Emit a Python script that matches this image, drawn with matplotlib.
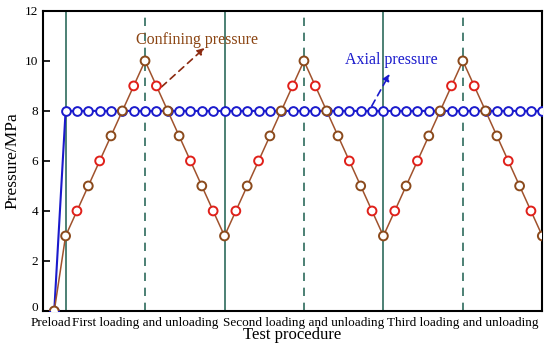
import numpy as np
import matplotlib
matplotlib.use('Agg')
import matplotlib.pyplot as plt

plt.rcParams['font.family'] = ['Liberation Serif', 'DejaVu Serif']

# test step index and pressures (MPa)
steps = list(range(44))
confining = [0, 3, 4, 5, 6, 7, 8, 9, 10, 9, 8, 7, 6, 5, 4, 3,
             4, 5, 6, 7, 8, 9, 10, 9, 8, 7, 6, 5, 4, 3,
             4, 5, 6, 7, 8, 9, 10, 9, 8, 7, 6, 5, 4, 3]
axial = [0] + [8] * 43

stage_starts = [1, 15, 29]
stage_peaks = [8, 22, 36]
stage_labels = ['Preload', 'First loading and unloading',
                'Second loading and unloading', 'Third loading and unloading']
stage_label_pos = [-0.3, 8, 22, 36]

line_green = '#2e6b5c'
brown = '#a0522d'
red = '#e0201a'
blue = '#1a1acc'

fig = plt.figure(figsize=(5.5, 3.51), dpi=100)
ax = fig.add_axes([0.078, 0.114, 0.908, 0.855])

for s in stage_starts:
    ax.axvline(s, color=line_green, lw=1.2, zorder=1)
for p in stage_peaks:
    ax.axvline(p, color=line_green, lw=1.2, ls=(0, (5, 4)), zorder=1)

ax.plot(steps, axial, color=blue, lw=1.5, marker='o', ms=6.3,
        mfc='white', mec=blue, mew=1.4, zorder=3)

ax.plot(steps, confining, color=brown, lw=1.1, zorder=4)
edge = [red if v in (4, 6, 9) else '#8b4a1c' for v in confining]
ax.scatter(steps, confining, s=40, facecolors='white', edgecolors=edge,
           linewidths=1.4, zorder=5)

# labels with dashed arrows pointing from the curves to the text
ax.text(12.6, 10.84, 'Confining pressure', color='#8b4513', fontsize=11.5,
        ha='center', va='center')
ax.annotate('', xy=(13.25, 10.52), xytext=(9.45, 8.96),
            arrowprops=dict(arrowstyle='-|>', color='#8b2a10', lw=1.2,
                            ls=(0, (4, 3)), shrinkA=0, shrinkB=0,
                            mutation_scale=10))
ax.text(29.7, 10.04, 'Axial pressure', color=blue, fontsize=11.5,
        ha='center', va='center')
ax.annotate('', xy=(29.55, 9.48), xytext=(27.98, 8.2),
            arrowprops=dict(arrowstyle='-|>', color=blue, lw=1.2,
                            ls=(0, (4, 3)), shrinkA=0, shrinkB=0,
                            mutation_scale=10))

ax.set_xlim(-1, 43)
ax.set_ylim(0, 12)
ax.set_yticks(range(0, 13, 2))
ax.set_xticks(stage_label_pos)
ax.set_xticklabels(stage_labels, fontsize=9.5)
ax.tick_params(axis='x', length=0, pad=4)
ax.tick_params(axis='y', direction='in', length=5, width=1.2, labelsize=9.5)
# the "0" sits a little higher, just above the "Preload" label
ax.get_yticklabels()[0].set_va('baseline')
for sp in ax.spines.values():
    sp.set_linewidth(1.5)

ax.set_xlabel('Test procedure', fontsize=12, labelpad=-1)
ax.set_ylabel('Pressure/MPa', fontsize=12.5, labelpad=3)

fig.savefig('out.png', dpi=100)
